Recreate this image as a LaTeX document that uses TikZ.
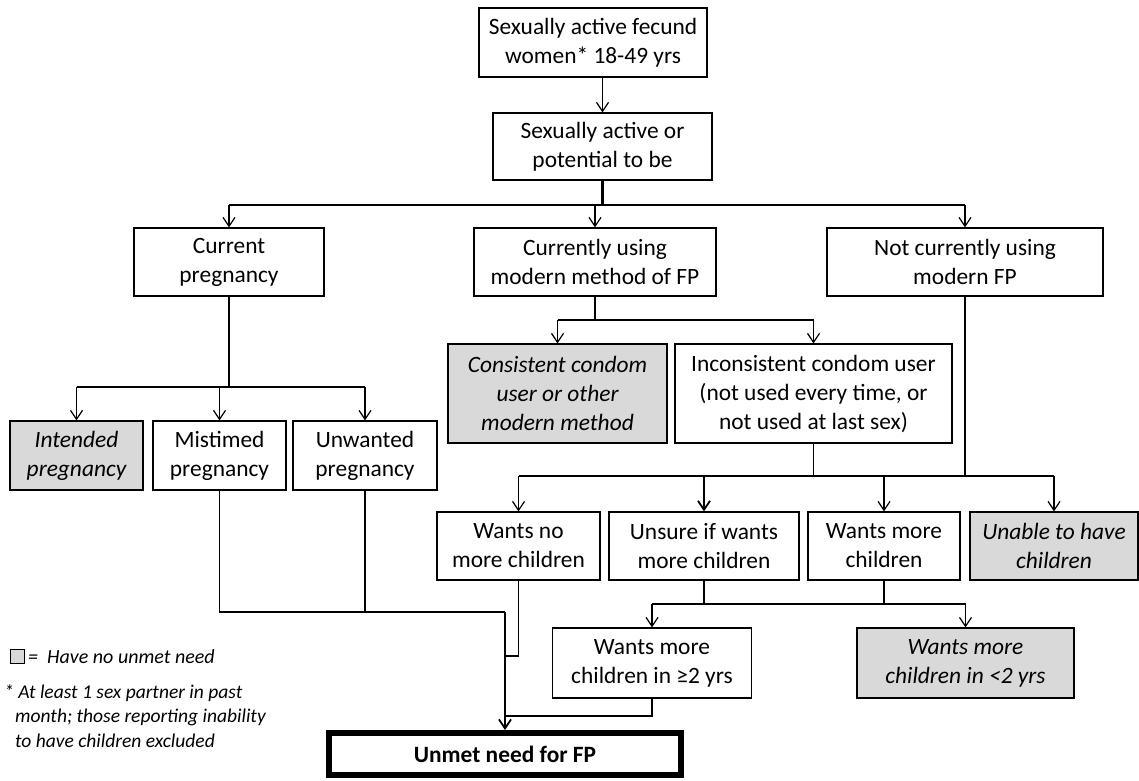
\documentclass[tikz,border=0pt]{standalone}
\usepackage{fontspec}
\setmainfont{Carlito}
\usetikzlibrary{arrows.meta}
\definecolor{nofill}{HTML}{D9D9D9}
\tikzset{
  box/.style={draw=black, line width=1.2pt, inner sep=0pt, align=center,
    font=\fontsize{23.4}{29}\selectfont},
  grey/.style={box, fill=nofill, font=\fontsize{23.4}{29}\selectfont\itshape},
  link/.style={line width=1.2pt},
  heavy/.style={line width=2.6pt},
  arr/.style={link, -{Straight Barb[length=9pt,width=12pt,line width=1.2pt]}},
  harr/.style={heavy, -{Straight Barb[length=9pt,width=12pt,line width=1.8pt]}},
}
\begin{document}
\begin{tikzpicture}[x=1pt,y=-1pt]
\useasboundingbox (0,0) rectangle (1139,780);

% top of the tree
\node[box, minimum width=228pt, minimum height=69pt] (B1) at (593,42.5)
  {Sexually active fecund\\women* 18-49 yrs};
\node[box, minimum width=219pt, minimum height=67pt] (B2) at (602.5,146.5)
  {Sexually active or\\potential to be};

% first split
\node[box, minimum width=190pt, minimum height=68pt] (CP) at (229,262)
  {Current\\pregnancy};
\node[box, minimum width=242pt, minimum height=68pt] (CU) at (595,262)
  {Currently using\\modern method of FP};
\node[box, minimum width=276pt, minimum height=68pt] (NC) at (965,262)
  {Not currently using\\modern FP};

% pregnancy outcomes
\node[grey, minimum width=133pt, minimum height=69pt] (IP) at (76.5,455.5)
  {Intended\\pregnancy};
\node[box, minimum width=133pt, minimum height=69pt] (MP) at (219.5,455.5)
  {Mistimed\\pregnancy};
\node[box, minimum width=144pt, minimum height=69pt] (UP) at (365,455.5)
  {Unwanted\\pregnancy};

% method users
\node[grey, minimum width=219pt, minimum height=99pt] (CC) at (557.5,393.5)
  {Consistent condom\\user or other\\modern method};
\node[box, minimum width=277pt, minimum height=99pt] (IC) at (813.5,393.5)
  {Inconsistent condom user\\(not used every time, or\\not used at last sex)};

% fertility intentions
\node[box, minimum width=163pt, minimum height=68pt] (WN) at (518.5,546)
  {Wants no\\more children};
\node[box, minimum width=190pt, minimum height=68pt] (US) at (704,546)
  {Unsure if wants\\more children};
\node[box, minimum width=152pt, minimum height=68pt] (WM) at (884,546)
  {Wants more\\children};
\node[grey, minimum width=168pt, minimum height=68pt] (UA) at (1054,546)
  {Unable to have\\children};

% timing
\node[box, minimum width=199pt, minimum height=70pt] (W2) at (652,663)
  {Wants more\\children in ≥2 yrs};
\node[grey, minimum width=217pt, minimum height=70pt] (WL) at (965.5,663)
  {Wants more\\children in <2 yrs};

% outcome
\node[draw=black, line width=6pt, inner sep=0pt, minimum width=352pt,
  minimum height=42pt, font=\fontsize{23.4}{29}\selectfont\bfseries] (F) at (505,754)
  {Unmet need for FP};

% junction levels
\coordinate (j1) at (0,205);
\coordinate (j2) at (0,387);
\coordinate (j3) at (0,320);
\coordinate (j4) at (0,476);
\coordinate (j5) at (0,604);
\coordinate (j6) at (0,612);
\coordinate (j7) at (0,656);
\coordinate (j8) at (0,716);

% connectors
\draw[arr] (B2.north |- B1.south) -- (B2.north);
\draw[heavy] (B2.south) -- (B2.south |- j1);
\draw[link] (CP.north |- j1) -- (NC.north |- j1);
\draw[arr] (CP.north |- j1) -- (CP.north);
\draw[arr] (CU.north |- j1) -- (CU.north);
\draw[arr] (NC.north |- j1) -- (NC.north);

\draw[heavy] (CP.south) -- (CP.south |- j2);
\draw[link] (IP.north |- j2) -- (UP.north |- j2);
\draw[arr] (IP.north |- j2) -- (IP.north);
\draw[arr] (MP.north |- j2) -- (MP.north);
\draw[arr] (UP.north |- j2) -- (UP.north);

\draw[link] (CU.south) -- (CU.south |- j3);
\draw[link] (CC.north |- j3) -- (IC.north |- j3);
\draw[arr] (CC.north |- j3) -- (CC.north);
\draw[arr] (IC.north |- j3) -- (IC.north);

\draw[link] (IC.south) -- (IC.south |- j4) -- (WN.north |- j4);
\draw[arr] (WN.north |- j4) -- (WN.north);
\draw[heavy] (NC.south) -- (NC.south |- j4) -- (US.north |- j4);
\draw[harr] (US.north |- j4) -- (US.north);
\draw[link] (NC.south |- j4) -- (UA.north |- j4);
\draw[arr] (WM.north |- j4) -- (WM.north);
\draw[arr] (UA.north |- j4) -- (UA.north);

\draw[link] (US.south) -- (US.south |- j5);
\draw[link] (WM.south) -- (WM.south |- j5);
\draw[link] (W2.north |- j5) -- (WL.north |- j5);
\draw[arr] (W2.north |- j5) -- (W2.north);
\draw[arr] (WL.north |- j5) -- (WL.north);

\draw[link] (MP.south) -- (MP.south |- j6) -- (UP.south |- j6);
\draw[link] (UP.south) -- (UP.south |- j6);
\draw[heavy] (UP.south |- j6) -- (F.north |- j6);
\draw[harr] (F.north |- j6) -- (F.north);
\draw[link] (WN.south) -- (WN.south |- j7) -- (F.north |- j7);
\draw[link] (W2.south) -- (W2.south |- j8) -- (F.north |- j8);

% legend and footnote
\node[draw=black, line width=1pt, fill=nofill, minimum width=14pt,
  minimum height=14pt, inner sep=0pt] (key) at (17,656) {};
\node[anchor=west, inner sep=0pt, font=\fontsize{20}{24}\selectfont\itshape]
  (keytext) at (28,657) {=\ \ Have no unmet need};
\node[anchor=north west, inner sep=0pt, align=left,
  font=\fontsize{19.5}{24.5}\selectfont\itshape] (note) at (4,684)
  {* At least 1 sex partner in past\\
   \hspace*{11pt}month; those reporting inability\\
   \hspace*{11pt}to have children excluded};
\end{tikzpicture}
\end{document}
